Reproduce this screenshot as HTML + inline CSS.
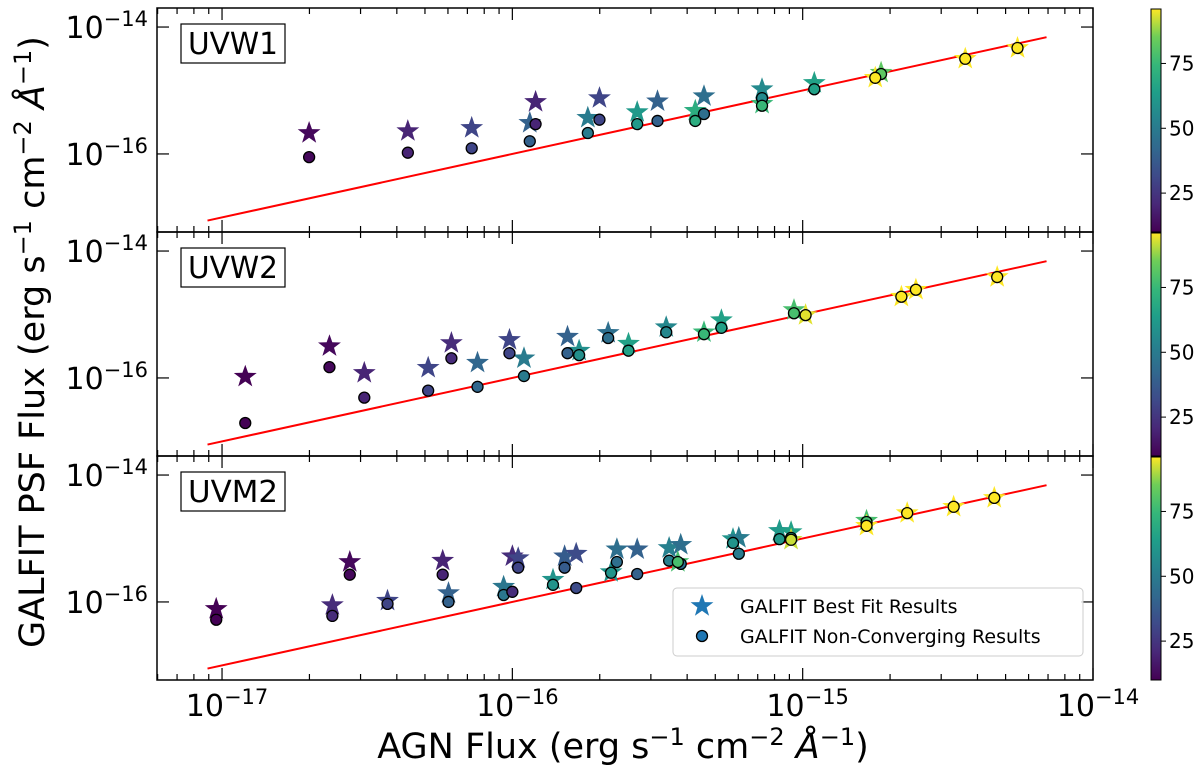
<!DOCTYPE html>
<html><head><meta charset="utf-8"><style>
body{margin:0;background:#fff}
svg{display:block;font-family:"DejaVu Sans","Liberation Sans",sans-serif}
</style></head><body>
<svg id="chart" width="1200" height="767" xmlns="http://www.w3.org/2000/svg"></svg>
<script>
// ---- data (log10 fluxes) ----
const panelNames = ["UVW1","UVW2","UVM2"];
const w1X    = [-16.70,-16.36,-16.14,-15.94,-15.92,-15.74,-15.70,-15.57,-15.50,-15.37,-15.34,-15.14,-15.14,-14.96,-14.73,-14.75,-14.44,-14.26];
const w1Star = [-15.67,-15.64,-15.59,-15.51,-15.18,-15.43,-15.12,-15.34,-15.17,-15.32,-15.09,-14.98,-15.21,-14.88,-14.72,-14.80,-14.50,-14.33];
const w1Circ = [-16.05,-15.98,-15.91,-15.80,-15.53,-15.67,-15.46,-15.53,-15.48,-15.48,-15.37,-15.12,-15.24,-14.98,-14.74,-14.80,-14.50,-14.33];
const w1C    = [12,20,30,40,20,50,30,62,40,70,45,56,75,65,82,96,96,96];
const w2X    = [-16.92,-16.63,-16.51,-16.29,-16.21,-16.12,-16.01,-15.96,-15.81,-15.77,-15.67,-15.60,-15.47,-15.34,-15.28,-15.03,-14.99,-14.66,-14.61,-14.33];
const w2Star = [-15.98,-15.50,-15.92,-15.84,-15.45,-15.76,-15.40,-15.69,-15.35,-15.57,-15.29,-15.46,-15.20,-15.28,-15.09,-14.93,-15.01,-14.72,-14.61,-14.41];
const w2Circ = [-16.71,-15.83,-16.31,-16.20,-15.69,-16.14,-15.61,-15.97,-15.61,-15.64,-15.37,-15.57,-15.28,-15.31,-15.21,-14.98,-15.01,-14.72,-14.61,-14.41];
const w2C    = [10,12,20,30,22,42,30,50,40,58,45,65,55,75,65,78,94,96,96,96];
const m2X    = [-17.02,-16.56,-16.62,-16.43,-16.24,-16.22,-16.03,-16.00,-15.98,-15.86,-15.82,-15.78,-15.64,-15.66,-15.57,-15.46,-15.42,-15.43,-15.24,-15.22,-15.08,-15.04,-15.04,-14.78,-14.78,-14.64,-14.48,-14.34];
const m2Star = [-16.11,-15.37,-16.05,-15.98,-15.35,-15.86,-15.76,-15.28,-15.31,-15.65,-15.28,-15.24,-15.17,-15.53,-15.17,-15.15,-15.10,-15.37,-15.01,-14.99,-14.88,-14.90,-15.02,-14.72,-14.80,-14.60,-14.50,-14.36];
const m2Circ = [-16.28,-15.57,-16.22,-16.03,-15.57,-16.00,-15.89,-15.84,-15.46,-15.73,-15.46,-15.78,-15.37,-15.54,-15.56,-15.35,-15.40,-15.37,-15.07,-15.24,-15.01,-14.99,-15.02,-14.74,-14.80,-14.60,-14.50,-14.36];
const m2C    = [10,12,22,30,20,40,48,22,30,60,38,32,45,60,40,52,45,78,60,50,62,65,92,78,96,96,96,96];
const xTickLabels = ["−17","−16","−15","−14"];
const yTickLabels = ["−14","−16"];
const cbTickValues = [25,50,75];
// ---- layout ----
const NS="http://www.w3.org/2000/svg";
const svg=document.getElementById('chart');
const L=157,R=1093,XMIN=-17.224,XMAX=-14.0;
const panelTop=[8,232,456],PH=224,YMAX=-13.70,YMIN=-17.23;
const CMIN=10,CMAX=96;
function sx(v){return L+(v-XMIN)/(XMAX-XMIN)*(R-L);}
function sy(p,v){return panelTop[p]+(YMAX-v)/(YMAX-YMIN)*PH;}
const vir=["#440154","#482878","#3e4a89","#31688e","#26828e","#1f9e89","#35b779","#6ece58","#fde725"];
function hex(h){return [1,3,5].map(i=>parseInt(h.substr(i,2),16));}
function cmap(c){let t=Math.max(0,Math.min(1,(c-CMIN)/(CMAX-CMIN)))*8;let i=Math.min(7,Math.floor(t)),f=t-i;
 const a=hex(vir[i]),b=hex(vir[i+1]);return "rgb("+a.map((v,k)=>Math.round(v+(b[k]-v)*f)).join(",")+")";}
function mk(tag,attrs,parent){const e=document.createElementNS(NS,tag);for(const k in attrs)e.setAttribute(k,attrs[k]);(parent||svg).appendChild(e);return e;}
function starPath(cx,cy,r){let d="";for(let i=0;i<10;i++){const rr=i%2?r*0.4:r;const a=-Math.PI/2+i*Math.PI/5;d+=(i?"L":"M")+(cx+rr*Math.cos(a)).toFixed(1)+","+(cy+rr*Math.sin(a)).toFixed(1);}return d+"Z";}
function powLabel(x,y,exp,anchor,size){const t=mk('text',{x:x,y:y,'font-size':size,'text-anchor':anchor,fill:'#000'});
 const a=document.createElementNS(NS,'tspan');a.textContent="10";t.appendChild(a);
 const b=document.createElementNS(NS,'tspan');b.setAttribute('dy',-12);b.setAttribute('font-size',size*0.7);b.textContent=exp;t.appendChild(b);return t;}
const sets=[[w1X,w1Star,w1Circ,w1C],[w2X,w2Star,w2Circ,w2C],[m2X,m2Star,m2Circ,m2C]];
for(let p=0;p<3;p++){
 const g=mk('g',{});
 
 
 const T=panelTop[p],B=T+PH;
 const ln=mk('line',{x1:sx(-17.05),y1:sy(p,-17.05),x2:sx(-14.16),y2:sy(p,-14.16),stroke:'#ff0000','stroke-width':2},g);
 
 
 const [xs,ss,cs,cc]=sets[p];
 for(let i=0;i<xs.length;i++){
  const s=mk('path',{d:starPath(sx(xs[i]),sy(p,ss[i]),12),fill:cmap(cc[i])},g);
  
  
 }
 for(let i=0;i<xs.length;i++){
  const c=mk('circle',{cx:sx(xs[i]),cy:sy(p,cs[i]),r:5.5,fill:cmap(cc[i]),stroke:'#000','stroke-width':1.3},g);
  
  
 }
 for(let d=-18;d<=-14;d++){for(let m=1;m<=9;m++){const v=d+Math.log10(m);if(v<XMIN||v>XMAX+1e-6)continue;if(d===-14&&m>1)continue;
  const len=m===1?12:6,x=sx(v);
  mk('line',{x1:x,y1:B,x2:x,y2:B-len,stroke:'#000','stroke-width':1.2},g);
  mk('line',{x1:x,y1:T,x2:x,y2:T+len,stroke:'#000','stroke-width':1.2},g);}}
 [-14,-16].forEach((v,k)=>{const y=sy(p,v);
  mk('line',{x1:L,y1:y,x2:L+12,y2:y,stroke:'#000','stroke-width':1.2},g);
  mk('line',{x1:R,y1:y,x2:R-12,y2:y,stroke:'#000','stroke-width':1.2},g);
  const t=powLabel(148,y+11,yTickLabels[k],'end',30);
  
  });
 mk('rect',{x:L,y:T,width:R-L,height:PH,fill:'none',stroke:'#000','stroke-width':1.5},g);
 const bx=mk('rect',{x:181,y:T+16,width:104,height:39,fill:'#fff',stroke:'#000','stroke-width':1.2},g);
 
 
 const bt=mk('text',{x:233,y:T+46,'font-size':30,'text-anchor':'middle',textLength:90,lengthAdjust:'spacingAndGlyphs'},g);bt.textContent=panelNames[p];
 
 
 const cb=mk('g',{});
 
 
 const gid='grad'+p;const lg=mk('linearGradient',{id:gid,x1:0,y1:1,x2:0,y2:0},cb);
 vir.forEach((c,i)=>mk('stop',{offset:i/8,'stop-color':c},lg));
 const cT=T+1,cB=T+PH;
 mk('rect',{x:1151,y:cT,width:10,height:cB-cT,fill:'url(#'+gid+')',stroke:'#000','stroke-width':1},cb);
 cbTickValues.forEach(v=>{const y=cB-(v-CMIN)/(CMAX-CMIN)*(cB-cT);
  mk('line',{x1:1161,y1:y,x2:1166,y2:y,stroke:'#000','stroke-width':1},cb);
  const t=mk('text',{x:1169,y:y+7,'font-size':20},cb);t.textContent=v;
  
  });
}
[-17,-16,-15,-14].forEach((v,k)=>{const t=powLabel(sx(v)+5,716,xTickLabels[k],'middle',30);
 
 });
const sup='<tspan dy="-13" font-size="24">−1</tspan><tspan dy="13"> cm</tspan><tspan dy="-13" font-size="24">−2</tspan><tspan dy="13" font-style="italic"> Å</tspan><tspan dy="-13" font-size="24">−1</tspan><tspan dy="13">)</tspan>';
const xt=mk('text',{x:623,y:758,'font-size':35,'text-anchor':'middle'});
xt.innerHTML='AGN Flux (erg s'+sup;


const yt=mk('text',{x:0,y:0,'font-size':35,'text-anchor':'middle',transform:'translate(44,342) rotate(-90)'});
yt.innerHTML='GALFIT PSF Flux (erg s'+sup;


const lgd=mk('g',{});


mk('rect',{x:673,y:588,width:410,height:68,rx:4,fill:'#fff','fill-opacity':0.85,stroke:'#ccc','stroke-width':1},lgd);
const ls=mk('path',{d:starPath(702,606,12),fill:'#1f77b4'},lgd);


const lc=mk('circle',{cx:702,cy:636,r:5.5,fill:'#1f77b4',stroke:'#000','stroke-width':1.3},lgd);


const t1=mk('text',{x:740,y:613,'font-size':19},lgd);t1.textContent='GALFIT Best Fit Results';


const t2=mk('text',{x:740,y:643,'font-size':19},lgd);t2.textContent='GALFIT Non-Converging Results';


</script>
</body></html>
